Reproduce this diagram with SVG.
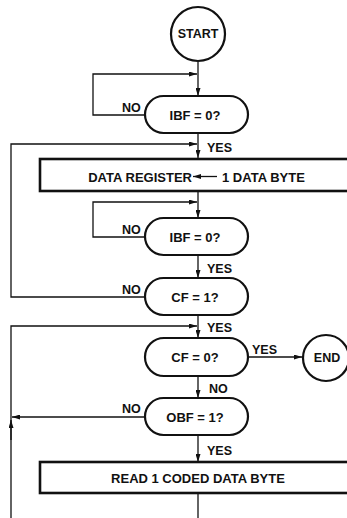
<svg xmlns="http://www.w3.org/2000/svg" width="347" height="518" viewBox="0 0 347 518">
<style>
.s{fill:none;stroke:#111;stroke-width:2.2}
.b{fill:#fff;stroke:#111;stroke-width:2.6}
.l{fill:none;stroke:#111;stroke-width:1.3}
text{font-family:"Liberation Sans",Arial,sans-serif;font-weight:bold;font-size:12.5px;fill:#111}
.c{text-anchor:middle}
.t{font-size:13px}
</style>
<defs>
<marker id="a" markerWidth="8" markerHeight="5" refX="8" refY="2.5" orient="auto" markerUnits="userSpaceOnUse">
<path d="M0,0 L8,2.5 L0,5 Z" fill="#111"/>
</marker>
</defs>
<rect width="347" height="518" fill="#fff"/>
<g id="connectors">
<line class="l" x1="198" y1="62" x2="198" y2="96" marker-end="url(#a)"/>
<polyline class="l" points="145,115 93,115 93,74 197,74" marker-end="url(#a)"/>
<line class="l" x1="198" y1="133" x2="198" y2="158" marker-end="url(#a)"/>
<polyline class="l" points="145,297 11,297 11,144 197,144" marker-end="url(#a)"/>
<line class="l" x1="198" y1="191" x2="198" y2="218" marker-end="url(#a)"/>
<polyline class="l" points="145,237 93,237 93,202 197,202" marker-end="url(#a)"/>
<line class="l" x1="198" y1="255" x2="198" y2="278" marker-end="url(#a)"/>
<line class="l" x1="198" y1="315" x2="198" y2="338" marker-end="url(#a)"/>
<polyline class="l" points="11,518 11,326 197,326" marker-end="url(#a)"/>
<line class="l" x1="11" y1="440" x2="11" y2="420" marker-end="url(#a)"/>
<line class="l" x1="247" y1="357" x2="302" y2="357" marker-end="url(#a)"/>
<line class="l" x1="198" y1="376" x2="198" y2="398" marker-end="url(#a)"/>
<line class="l" x1="145" y1="417" x2="12" y2="417" marker-end="url(#a)"/>
<line class="l" x1="198" y1="435" x2="198" y2="462" marker-end="url(#a)"/>
<line class="l" x1="198" y1="493" x2="198" y2="518"/>
<text x="122" y="112">NO</text>
<text x="207" y="152">YES</text>
<text x="122" y="234">NO</text>
<text x="207" y="273">YES</text>
<text x="122" y="294">NO</text>
<text x="207" y="332">YES</text>
<text x="252" y="354">YES</text>
<text x="209" y="393">NO</text>
<text x="122" y="413">NO</text>
<text x="207" y="455">YES</text>
</g>
<g id="start"><circle class="s" cx="198" cy="34" r="27"/><text class="c" x="198" y="38">START</text></g>
<g id="ibf1"><rect class="s" x="145" y="96" width="103" height="37" rx="18.5"/><text class="c t" x="195" y="119.5">IBF = 0?</text></g>
<g id="datareg"><rect class="b" x="40" y="159" width="320" height="32"/><text class="t" x="192" y="181.5" text-anchor="end">DATA REGISTER</text><line class="l" x1="217" y1="176.5" x2="193" y2="176.5" marker-end="url(#a)"/><text class="t" x="222" y="181.5">1 DATA BYTE</text></g>
<g id="ibf2"><rect class="s" x="145" y="218" width="103" height="37" rx="18.5"/><text class="c t" x="195" y="241.5">IBF = 0?</text></g>
<g id="cf1"><rect class="s" x="145" y="278" width="103" height="37" rx="18.5"/><text class="c t" x="195" y="301.5">CF = 1?</text></g>
<g id="cf0"><rect class="s" x="145" y="338" width="103" height="38" rx="19"/><text class="c t" x="195" y="361.5">CF = 0?</text></g>
<g id="end"><circle class="s" cx="326" cy="358" r="23"/><text class="c" x="327" y="362">END</text></g>
<g id="obf"><rect class="s" x="145" y="398" width="103" height="37" rx="18.5"/><text class="c t" x="195" y="421.5">OBF = 1?</text></g>
<g id="read"><rect class="b" x="40" y="462" width="320" height="31"/><text class="c t" x="198" y="483">READ 1 CODED DATA BYTE</text></g>
</svg>
